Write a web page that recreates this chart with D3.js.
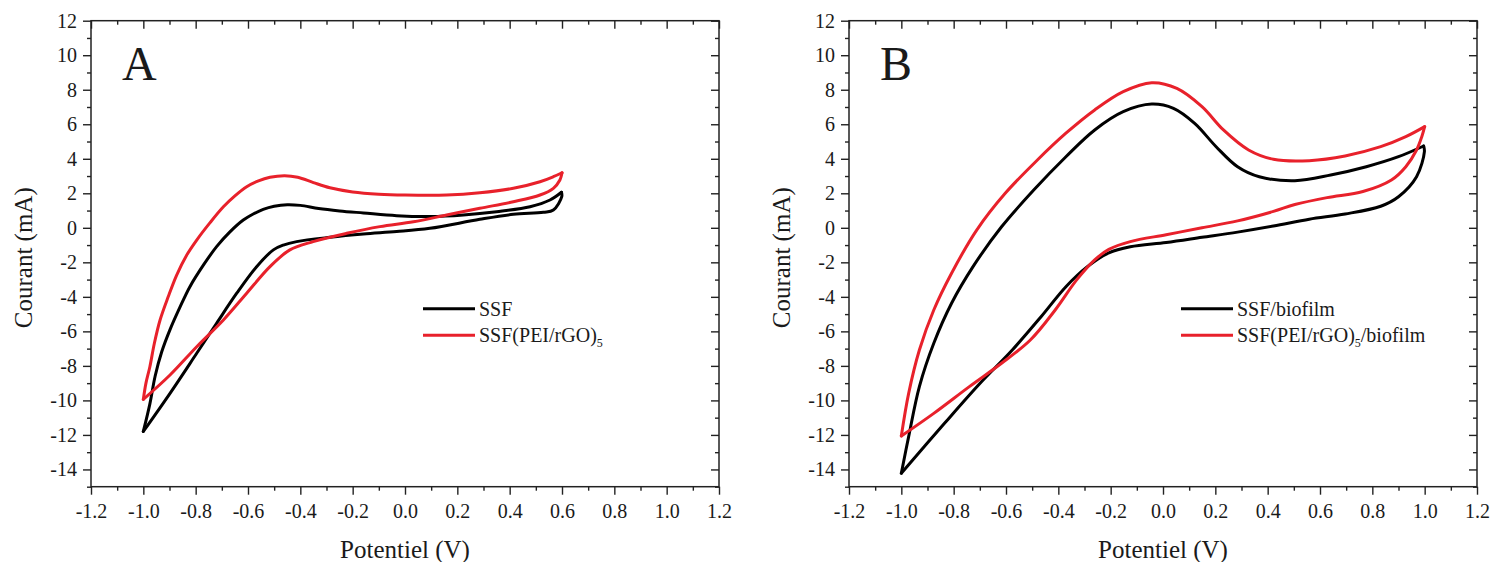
<!DOCTYPE html>
<html><head><meta charset="utf-8">
<script src="https://cdn.jsdelivr.net/npm/d3@7"></script>
<style>
body{margin:0;background:#fff}
svg{display:block}
text{font-family:"Liberation Serif","Times New Roman",serif;fill:#1a1a1a}
</style>
</head><body>
<svg id="chart" width="1490" height="562"></svg>
<script>
// ---------- data (Potentiel V, Courant mA) ----------
const xMajorTicks = [-1.2,-1.0,-0.8,-0.6,-0.4,-0.2,0.0,0.2,0.4,0.6,0.8,1.0,1.2];
const xMinorTicks = [-1.1,-0.9,-0.7,-0.5,-0.3,-0.1,0.1,0.3,0.5,0.7,0.9,1.1];
const yMajorTicks = [-14,-12,-10,-8,-6,-4,-2,0,2,4,6,8,10,12];
const yMinorTicks = [-15,-13,-11,-9,-7,-5,-3,-1,1,3,5,7,9,11];
const xDomain = [-1.2, 1.2];
const yDomain = [-15, 12];

// Panel A : SSF
const ssfForward = [[-1.0,-11.8],[-0.975,-10.2],[-0.955,-8.6],[-0.93,-7.2],[-0.898,-5.9],[-0.86,-4.6],[-0.822,-3.41],[-0.77,-2.15],[-0.72,-1.09],[-0.67,-0.25],[-0.618,0.45],[-0.58,0.8],[-0.542,1.07],[-0.5,1.25],[-0.45,1.34],[-0.40,1.3],[-0.33,1.12],[-0.25,0.98],[-0.159,0.86],[-0.032,0.7],[0.095,0.65],[0.223,0.74],[0.35,0.93],[0.478,1.22],[0.554,1.61],[0.598,2.06]];
const ssfReverse = [[0.598,2.06],[0.599,1.80],[0.567,1.03],[0.529,0.9],[0.414,0.78],[0.286,0.49],[0.095,-0.03],[-0.032,-0.22],[-0.159,-0.36],[-0.287,-0.55],[-0.414,-0.8],[-0.465,-1.0],[-0.503,-1.28],[-0.567,-2.25],[-0.643,-3.79],[-0.72,-5.53],[-0.796,-7.27],[-0.898,-9.59],[-1.0,-11.8]];
// Panel A : SSF(PEI/rGO)5
const pgoForward = [[-1.0,-9.94],[-0.99,-9.0],[-0.975,-8.05],[-0.958,-6.7],[-0.936,-5.34],[-0.905,-4.0],[-0.873,-2.75],[-0.835,-1.6],[-0.796,-0.71],[-0.745,0.3],[-0.694,1.22],[-0.65,1.85],[-0.605,2.38],[-0.56,2.72],[-0.516,2.93],[-0.46,3.02],[-0.41,2.93],[-0.35,2.62],[-0.287,2.32],[-0.2,2.08],[-0.1,1.95],[0.0,1.9],[0.159,1.9],[0.286,2.03],[0.414,2.29],[0.516,2.67],[0.567,2.96],[0.6,3.19]];
const pgoReverse = [[0.6,3.19],[0.592,2.77],[0.567,2.29],[0.516,1.9],[0.414,1.51],[0.286,1.13],[0.159,0.74],[0.032,0.35],[-0.096,0.07],[-0.223,-0.32],[-0.351,-0.8],[-0.44,-1.28],[-0.516,-2.25],[-0.605,-3.79],[-0.694,-5.34],[-0.796,-6.89],[-0.898,-8.53],[-1.0,-9.94]];

// Panel B : SSF/biofilm
const ssfBioForward = [[-1.0,-14.22],[-0.972,-12.1],[-0.931,-9.2],[-0.876,-6.69],[-0.808,-4.37],[-0.726,-2.25],[-0.617,0.06],[-0.494,2.19],[-0.371,4.12],[-0.261,5.67],[-0.152,6.73],[-0.043,7.17],[0.04,6.92],[0.121,6.05],[0.203,4.7],[0.285,3.54],[0.368,2.96],[0.504,2.73],[0.641,3.06],[0.777,3.54],[0.9,4.12],[0.996,4.74]];
const ssfBioReverse = [[0.996,4.74],[0.999,4.41],[0.969,2.96],[0.9,1.8],[0.832,1.25],[0.696,0.8],[0.559,0.5],[0.422,0.1],[0.285,-0.25],[0.149,-0.55],[0.012,-0.85],[-0.125,-1.1],[-0.207,-1.45],[-0.289,-2.25],[-0.371,-3.41],[-0.466,-5.15],[-0.576,-7.08],[-0.699,-9.01],[-0.835,-11.33],[-1.0,-14.22]];
// Panel B : SSF(PEI/rGO)5/biofilm
const pgoBioForward = [[-1.0,-12.06],[-0.972,-9.59],[-0.931,-7.08],[-0.876,-4.76],[-0.808,-2.63],[-0.712,-0.13],[-0.603,2.0],[-0.48,3.93],[-0.371,5.48],[-0.261,6.83],[-0.152,7.89],[-0.043,8.41],[0.053,8.08],[0.149,7.02],[0.231,5.67],[0.327,4.51],[0.422,3.97],[0.559,3.89],[0.696,4.16],[0.832,4.7],[0.928,5.28],[1.0,5.86]];
const pgoBioReverse = [[1.0,5.86],[0.989,5.28],[0.969,4.51],[0.928,3.54],[0.873,2.77],[0.764,2.1],[0.627,1.75],[0.504,1.35],[0.422,0.95],[0.285,0.4],[0.149,0.0],[0.012,-0.4],[-0.125,-0.8],[-0.207,-1.25],[-0.261,-1.86],[-0.33,-3.02],[-0.412,-4.76],[-0.507,-6.5],[-0.617,-7.85],[-0.74,-9.2],[-0.876,-10.75],[-1.0,-12.06]];

const colBlack = "#000000";
const colRed = "#e8212b";

const panels = [
  { left: 91, label: "A",
    series: [
      { name: "SSF", sub: null, after: "", color: colBlack, branches: [ssfForward, ssfReverse] },
      { name: "SSF(PEI/rGO)", sub: "5", after: "", color: colRed, branches: [pgoForward, pgoReverse] }
    ] },
  { left: 849, label: "B",
    series: [
      { name: "SSF/biofilm", sub: null, after: "", color: colBlack, branches: [ssfBioForward, ssfBioReverse] },
      { name: "SSF(PEI/rGO)", sub: "5", after: "/biofilm", color: colRed, branches: [pgoBioForward, pgoBioReverse] }
    ] }
];

// ---------- layout ----------
const TOP = 20.7, W = 628, H = 466;
const svg = d3.select("#chart");

panels.forEach(p => {
  const g = svg.append("g").attr("transform", `translate(${p.left},${TOP})`);
  const x = d3.scaleLinear().domain(xDomain).range([0, W]);
  const y = d3.scaleLinear().domain(yDomain).range([H, 0]);

  // curves
  const line = d3.line().x(d => x(d[0])).y(d => y(d[1])).curve(d3.curveCatmullRom.alpha(0.5));
  p.series.forEach(s => {
    s.branches.forEach(b => {
      g.append("path").attr("d", line(b)).attr("fill", "none")
        .attr("stroke", s.color).attr("stroke-width", 3)
        .attr("stroke-linejoin", "round").attr("stroke-linecap", "round");
    });
  });

  // axes
  const styleAxis = sel => {
    sel.select(".domain").remove();
    sel.selectAll(".tick line").attr("stroke", "#222").attr("stroke-width", 1.4);
    sel.selectAll(".tick text").attr("font-size", 20).attr("fill", "#1a1a1a")
      .attr("font-family", "'Liberation Serif','Times New Roman',serif");
  };
  g.append("g").attr("transform", `translate(0,${H})`)
    .call(d3.axisBottom(x).tickValues(xMajorTicks).tickSize(8).tickPadding(9).tickFormat(d => d.toFixed(1))).call(styleAxis);
  g.append("g").attr("transform", `translate(0,${H})`)
    .call(d3.axisBottom(x).tickValues(xMinorTicks).tickSize(4).tickFormat("")).call(styleAxis);
  g.append("g")
    .call(d3.axisTop(x).tickValues(xMajorTicks).tickSize(-8).tickFormat("")).call(styleAxis);
  g.append("g")
    .call(d3.axisTop(x).tickValues(xMinorTicks).tickSize(-4).tickFormat("")).call(styleAxis);
  g.append("g")
    .call(d3.axisLeft(y).tickValues(yMajorTicks).tickSize(8).tickPadding(6).tickFormat(d => String(d))).call(styleAxis);
  g.append("g")
    .call(d3.axisLeft(y).tickValues(yMinorTicks).tickSize(4).tickFormat("")).call(styleAxis);
  g.append("g").attr("transform", `translate(${W},0)`)
    .call(d3.axisRight(y).tickValues(yMajorTicks).tickSize(-8).tickFormat("")).call(styleAxis);
  g.append("g").attr("transform", `translate(${W},0)`)
    .call(d3.axisRight(y).tickValues(yMinorTicks).tickSize(-4).tickFormat("")).call(styleAxis);

  g.append("rect").attr("x", 0).attr("y", 0).attr("width", W).attr("height", H)
    .attr("fill", "none").attr("stroke", "#222").attr("stroke-width", 1.5);

  // titles
  g.append("text").attr("x", W / 2).attr("y", 537).attr("text-anchor", "middle")
    .attr("font-size", 25).text("Potentiel (V)");
  g.append("text").attr("transform", `translate(-59,${H / 2 + 4}) rotate(-90)`)
    .attr("text-anchor", "middle").attr("font-size", 25).text("Courant (mA)");

  // panel letter
  g.append("text").attr("x", 31).attr("y", 59).attr("font-size", 48).text(p.label);

  // legend
  const lg = g.append("g").attr("transform", "translate(332,288)");
  p.series.forEach((s, i) => {
    const yy = i * 26.5;
    lg.append("line").attr("x1", 0).attr("x2", 52).attr("y1", yy).attr("y2", yy)
      .attr("stroke", s.color).attr("stroke-width", 3);
    const t = lg.append("text").attr("x", 56).attr("y", yy + 7).attr("font-size", 20);
    t.append("tspan").text(s.name);
    if (s.sub) {
      t.append("tspan").attr("font-size", 12).attr("dy", 5).text(s.sub);
      if (s.after) t.append("tspan").attr("dy", -5).text(s.after);
    }
  });
});
</script>
</body></html>
